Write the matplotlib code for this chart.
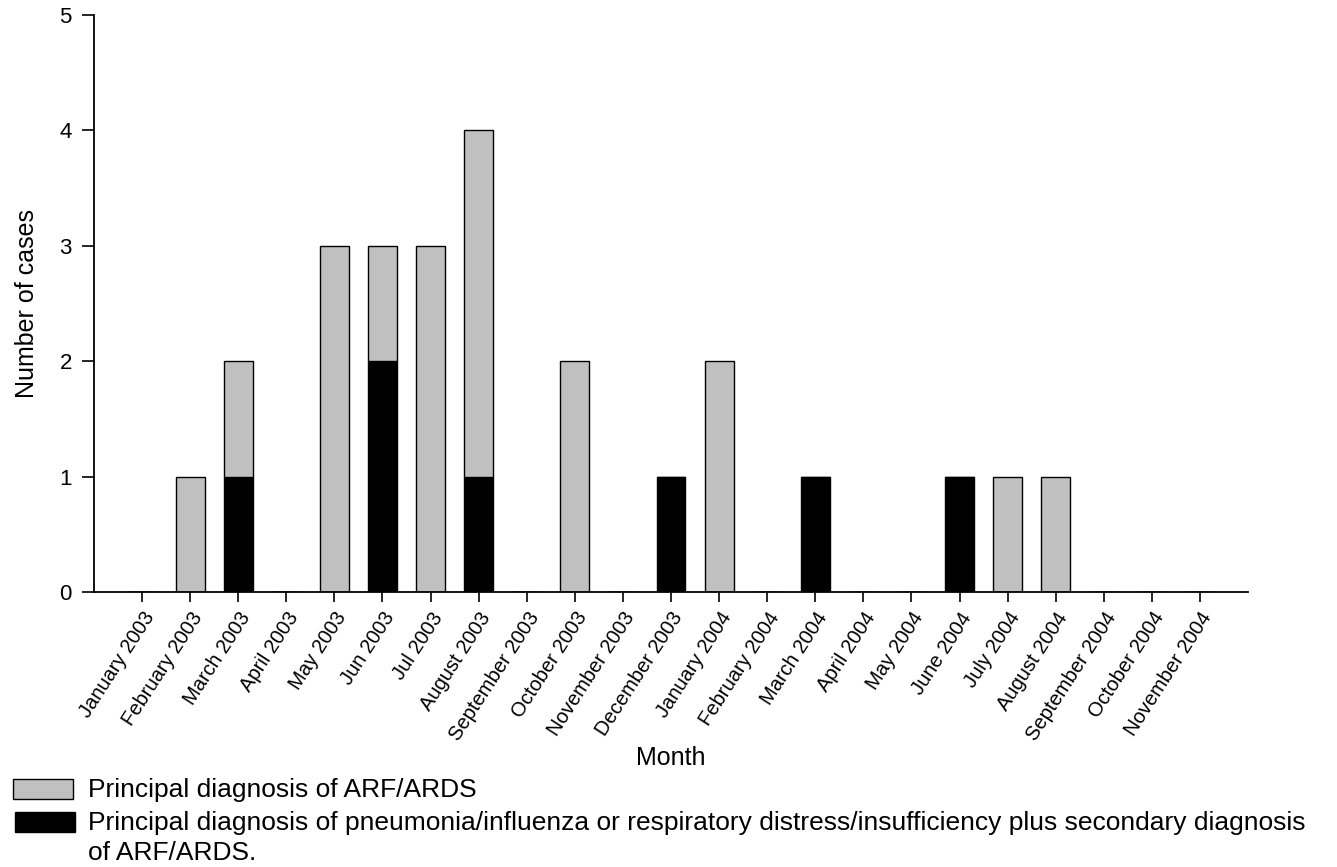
import numpy as np
import matplotlib
matplotlib.use("Agg")
import matplotlib.pyplot as plt
from matplotlib.patches import Rectangle

plt.rcParams.update({
    "font.family": "sans-serif",
    "font.sans-serif": ["Liberation Sans", "Arial", "DejaVu Sans"],
    "font.size": 14,
})

months = [
    "January 2003", "February 2003", "March 2003", "April 2003", "May 2003",
    "Jun 2003", "Jul 2003", "August 2003", "September 2003", "October 2003",
    "November 2003", "December 2003", "January 2004", "February 2004",
    "March 2004", "April 2004", "May 2004", "June 2004", "July 2004",
    "August 2004", "September 2004", "October 2004", "November 2004",
]
# secondary ARF/ARDS (black, bottom of stack)
secondary = [0, 0, 1, 0, 0, 2, 0, 1, 0, 0, 0, 1, 0, 0, 1, 0, 0, 1, 0, 0, 0, 0, 0]
# principal ARF/ARDS (grey, stacked on top)
principal = [0, 1, 1, 0, 3, 1, 3, 3, 0, 2, 0, 0, 2, 0, 0, 0, 0, 0, 1, 1, 0, 0, 0]

legend_labels = [
    "Principal diagnosis of ARF/ARDS",
    "Principal diagnosis of pneumonia/influenza or respiratory distress/insufficiency plus secondary diagnosis\nof ARF/ARDS.",
]

GREY = "#C0C0C0"
BLACK = "#000000"

W, H = 1337, 867
fig = plt.figure(figsize=(W / 100, H / 100), dpi=100)
ax = fig.add_axes([94 / W, (H - 592) / H, (1248 - 94) / W, (592 - 15) / H])

x = np.arange(len(months))
sec = np.array(secondary)
pri = np.array(principal)

ax.bar(x, sec, width=0.6, color=BLACK, edgecolor="black", linewidth=1.0)
ax.bar(x, pri, width=0.6, bottom=sec, color=GREY, edgecolor="black", linewidth=1.0)

ax.set_xlim(-1, 23)
ax.set_ylim(0, 5)
ax.set_yticks(range(6))
ax.set_xticks(x)
ax.set_xticklabels(months, rotation=57, ha="right", rotation_mode="anchor", fontsize=14.5)
ax.tick_params(axis="y", direction="out", length=9, width=1.2, labelsize=16, pad=7)
ax.tick_params(axis="x", direction="out", length=7, width=1.2, pad=5)

for side in ("top", "right"):
    ax.spines[side].set_visible(False)
for side in ("left", "bottom"):
    ax.spines[side].set_linewidth(1.3)

ax.set_ylabel("Number of cases", fontsize=18)
ax.yaxis.set_label_coords(-55 / (1248 - 94), 0.5)
fig.text(671 / W, 1 - 765 / H, "Month", fontsize=18, ha="center", va="baseline")

# legend drawn by hand below the axes
fig.patches.append(Rectangle((13 / W, 1 - 799 / H), 60 / W, 20 / H, transform=fig.transFigure,
                             facecolor=GREY, edgecolor="black", linewidth=1.0))
fig.patches.append(Rectangle((15 / W, 1 - 832 / H), 60 / W, 20 / H, transform=fig.transFigure,
                             facecolor=BLACK, edgecolor="black", linewidth=1.0))
fig.text(88 / W, 1 - 797 / H, legend_labels[0], fontsize=19, ha="left", va="baseline")
for i, line in enumerate(legend_labels[1].split("\n")):
    fig.text(88 / W, 1 - (830 + 30 * i) / H, line, fontsize=19, ha="left", va="baseline")

fig.savefig("out.png", dpi=100, facecolor="white")
